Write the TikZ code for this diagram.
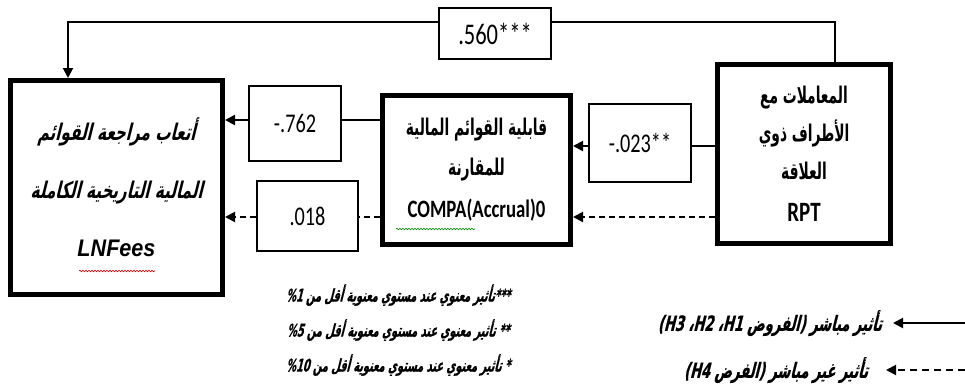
\documentclass[tikz,border=0pt]{standalone}
\usepackage{fontspec}
\usetikzlibrary{arrows.meta,decorations.pathmorphing}
\TeXXeTstate=1
\newfontfamily\arb[Script=Arabic,FakeStretch=0.6]{DejaVu Sans}
\newfontfamily\arbsl[Script=Arabic,FakeStretch=0.66,FakeSlant=0.25]{DejaVu Sans}
\newfontfamily\arbnote[Script=Arabic,FakeStretch=0.56,FakeSlant=0.25,FakeBold=0.6]{DejaVu Sans}
\newfontfamily\arbleg[Script=Arabic,FakeStretch=0.62,FakeSlant=0.25,FakeBold=0.6]{DejaVu Sans}
\newfontfamily\calib[FakeStretch=0.75]{Carlito}
\newfontfamily\arialx[FakeStretch=0.9]{Liberation Sans}
\tikzset{
  bigbox/.style={draw,line width=5pt,inner sep=0pt,align=center},
  coefbox/.style={draw,line width=1.5pt,inner sep=0pt,font=\calib\fontsize{27}{30}\selectfont},
  link/.style={line width=2pt},
  arr/.style={link,-{Triangle[length=10pt,width=10pt]}},
  dlink/.style={link,dash pattern=on 6pt off 4pt},
  darr/.style={dlink,-{Triangle[length=10pt,width=10pt]}},
  legtext/.style={inner sep=0pt,font=\arbnote\bfseries\fontsize{17.5}{19}\selectfont},
}
\begin{document}
\begin{tikzpicture}[x=1pt,y=-1pt]
\useasboundingbox (0,0) rectangle (965,386);
% main boxes
\node[bigbox,minimum width=212pt,minimum height=214pt,
  font=\arbsl\bfseries\fontsize{23}{58}\selectfont] (lnf) at (116.5,187.5)
  {\beginR أتعاب مراجعة القوائم\endR\\ \beginR المالية التاريخية الكاملة\endR\\
   {\arialx\bfseries\itshape\fontsize{24}{28}\selectfont LNFees}};
\node[bigbox,minimum width=188pt,minimum height=149pt,
  font=\arb\bfseries\fontsize{23}{40}\selectfont] (compa) at (476.5,170)
  {\beginR قابلية القوائم المالية\endR\\ \beginR للمقارنة\endR\\[2pt]
   {\calib\bfseries\fontsize{25}{28}\selectfont COMPA(Accrual)0}};
\node[bigbox,minimum width=173pt,minimum height=179pt,
  font=\arb\bfseries\fontsize{23}{38}\selectfont] (rpt) at (804,154)
  {\beginR المعاملات مع\endR\\ \beginR الأطراف ذوي\endR\\ \beginR العلاقة\endR\\[4pt]
   {\calib\bfseries\fontsize{28}{30}\selectfont RPT}};
% coefficient boxes
\node[coefbox,minimum width=112pt,minimum height=51pt,font=\calib\fontsize{30}{32}\selectfont] (b560) at (495,33.5) {.560***};
\node[coefbox,minimum width=92pt,minimum height=75pt] (b762) at (295,123.5) {-.762};
\node[coefbox,minimum width=101pt,minimum height=70pt] (b018) at (307.5,216) {.018};
\node[coefbox,minimum width=102pt,minimum height=78pt] (b023) at (640,143) {-.023**};
% helper coordinates
\coordinate (ytop) at (0,22);
\coordinate (xtopr) at (835,0);
\coordinate (xtopl) at (68,0);
\coordinate (ya) at (0,146);
\coordinate (yb) at (0,217);
\coordinate (yc) at (0,120);
% top path
\draw[link] (rpt.north -| xtopr) -- (xtopr |- ytop) -- (b560.east |- ytop);
\draw[arr] (b560.west |- ytop) -- (xtopl |- ytop) -- (lnf.north -| xtopl);
% RPT -> COMPA
\draw[link] (rpt.west |- ya) -- (b023.east |- ya);
\draw[arr] (b023.west |- ya) -- (compa.east |- ya);
\draw[darr] (rpt.west |- yb) -- (compa.east |- yb);
% COMPA -> LNFees
\draw[link] (compa.west |- yc) -- (b762.east |- yc);
\draw[arr] (b762.west |- yc) -- (lnf.east |- yc);
\draw[dlink] (compa.west |- yb) -- (b018.east |- yb);
\draw[darr] (b018.west |- yb) -- (lnf.east |- yb);
% spell-check squiggles
\draw[red!80!black,line width=0.6pt,decorate,decoration={snake,amplitude=0.8pt,segment length=3pt}] (79,271) -- (155,271);
\draw[green!55!black,line width=0.6pt,decorate,decoration={snake,amplitude=0.8pt,segment length=3pt}] (396,229) -- (475,229);
% notes
\node[legtext] (n1) at (398,295) {\beginR ***تأثير معنوي عند مستوي معنوية أقل من \beginL\%1\endL\endR};
\node[legtext] (n2) at (398,330) {\beginR ** تأثير معنوي عند مستوي معنوية أقل من \beginL\%5\endL\endR};
\node[legtext] (n3) at (398,365) {\beginR * تأثير معنوي عند مستوي معنوية أقل من \beginL\%10\endL\endR};
% legend
\coordinate (l1s) at (965,323);
\coordinate (l1e) at (893,323);
\coordinate (l2s) at (965,370);
\coordinate (l2e) at (886,370);
\draw[arr] (l1s) -- (l1e);
\draw[darr,dash pattern=on 7pt off 5pt] (l2s) -- (l2e);
\node[inner sep=0pt,anchor=east,font=\arbleg\bfseries\fontsize{21}{23}\selectfont] (t1) at (882,323)
  {\beginR تأثير مباشر (الفروض \beginL H1\endL، \beginL H2\endL، \beginL H3\endL)\endR};
\node[inner sep=0pt,anchor=east,font=\arbleg\bfseries\fontsize{21}{23}\selectfont] (t2) at (868,370)
  {\beginR تأثير غير مباشر (الفرض \beginL H4\endL)\endR};
\end{tikzpicture}
\end{document}
